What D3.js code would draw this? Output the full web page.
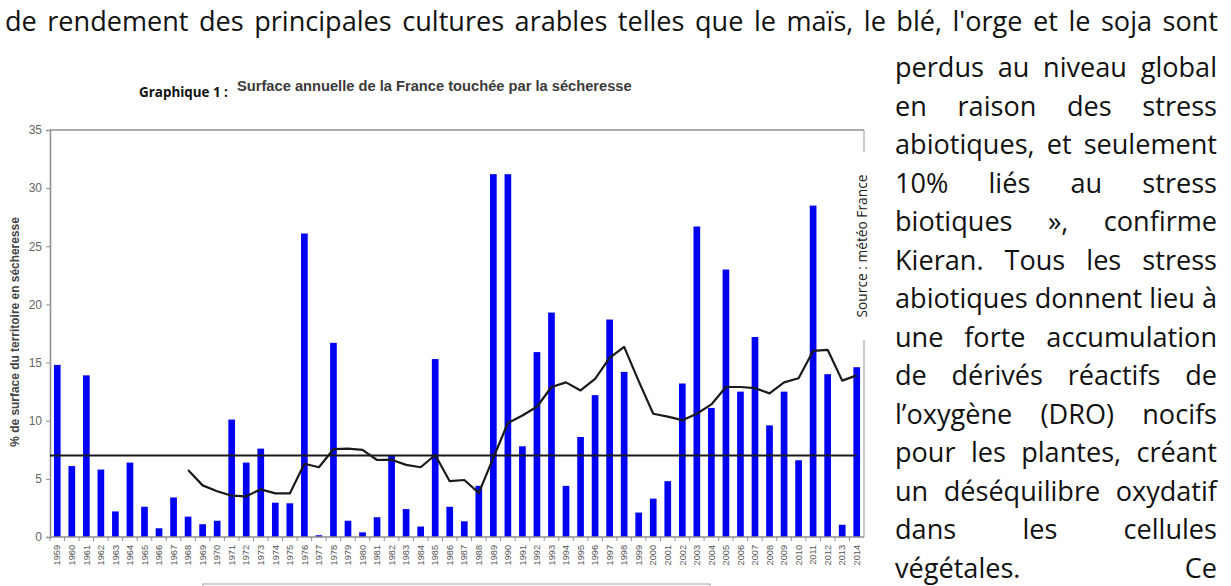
<!DOCTYPE html>
<html>
<head>
<meta charset="utf-8">
<script src="https://cdn.jsdelivr.net/npm/d3@7"></script>
<style>
  html, body { margin: 0; padding: 0; background: #fff; }
  svg { display: block; }
</style>
</head>
<body>
<script>
// ---------------- DATA ----------------
const years = ["1959","1960","1961","1962","1963","1964","1965","1966","1967","1968","1969","1970",
  "1971","1972","1973","1974","1975","1976","1977","1978","1979","1980","1981","1982","1983","1984",
  "1985","1986","1987","1988","1989","1990","1991","1992","1993","1994","1995","1996","1997","1998",
  "1999","2000","2001","2002","2003","2004","2005","2006","2007","2008","2009","2010","2011","2012",
  "2013","2014"];
const droughtPct = [14.8,6.1,13.9,5.8,2.2,6.4,2.6,0.75,3.4,1.75,1.1,1.4,10.1,6.4,7.6,2.95,2.9,
  26.1,0.15,16.7,1.4,0.4,1.7,7.0,2.4,0.9,15.3,2.6,1.35,4.4,
  31.2,31.2,7.8,15.9,19.3,4.4,8.6,12.2,18.7,14.2,2.1,3.3,4.8,
  13.2,26.7,11.1,23.0,12.5,17.2,9.6,12.5,6.6,28.5,14.0,1.05,14.6];
const avgYears = ["1968","1969","1970","1971","1972","1973","1974","1975","1976","1977","1978",
  "1979","1980","1981","1982","1983","1984","1985","1986","1987","1988","1989","1990","1991","1992",
  "1993","1994","1995","1996","1997","1998","1999","2000","2001","2002","2003","2004","2005","2006",
  "2007","2008","2009","2010","2011","2012","2013","2014"];
const avgValues = [5.76,4.44,3.93,3.55,3.5,4.1,3.75,3.75,6.3,6.0,
  7.55,7.6,7.5,6.62,6.65,6.2,6.0,7.05,4.8,4.9,
  3.8,6.8,9.8,10.45,11.2,12.9,13.3,12.6,13.6,15.4,
  16.35,13.4,10.6,10.35,10.05,10.6,11.4,12.9,12.9,12.8,
  12.35,13.3,13.65,16.0,16.1,13.45,13.9];
const referenceLevel = 7;
const yTicks = [0,5,10,15,20,25,30,35];

const chartTitle = "Surface annuelle de la France touchée par la sécheresse";
const figureLabel = "Graphique 1 :";
const yAxisLabel = "% de surface du territoire en sécheresse";
const sourceLabel = "Source : météo France";

const topLine = "de rendement des principales cultures arables telles que le maïs, le blé, l'orge et le soja sont";
const sideLines = [
  "perdus au niveau global",
  "en raison des stress",
  "abiotiques, et seulement",
  "10% liés au stress",
  "biotiques », confirme",
  "Kieran. Tous les stress",
  "abiotiques donnent lieu à",
  "une forte accumulation",
  "de dérivés réactifs de",
  "l’oxygène (DRO) nocifs",
  "pour les plantes, créant",
  "un déséquilibre oxydatif",
  "dans les cellules",
  "végétales. Ce"
];

// ---------------- LAYOUT ----------------
const W = 1231, H = 586;
const plot = { left: 50, right: 864, top: 130, bottom: 537 };
const AXIS_GRAY = "#8f8f8f";
const TEXT_GRAY = "#555";
const CHART_FONT = "'Liberation Sans', Arial, sans-serif";
const BODY_FONT = "'Open Sans', 'Noto Sans', sans-serif";

const svg = d3.select("body").append("svg").attr("width", W).attr("height", H);

function fitSize(text, family, weight, target) {
  const p = svg.append("text").attr("font-family", family).attr("font-weight", weight)
    .attr("font-size", 100).text(text);
  const w = p.node().getComputedTextLength();
  p.remove();
  return 100 * target / w;
}

const x = d3.scaleBand().domain(years).range([plot.left, plot.right])
  .paddingInner(0.54).paddingOuter(0.27);
const y = d3.scaleLinear().domain([0, 35]).range([plot.bottom, plot.top]);
const xc = d => x(d) + x.bandwidth() / 2;

// frame (top + right border)
svg.append("line").attr("x1", plot.left).attr("x2", plot.right)
  .attr("y1", plot.top).attr("y2", plot.top)
  .attr("stroke", AXIS_GRAY).attr("stroke-width", 1.6);
svg.append("line").attr("x1", plot.right).attr("x2", plot.right)
  .attr("y1", plot.top).attr("y2", plot.bottom)
  .attr("stroke", "#a8a8a8").attr("stroke-width", 1.2);

// bars
svg.append("g").selectAll("rect").data(years).join("rect")
  .attr("x", d => x(d))
  .attr("width", x.bandwidth())
  .attr("y", (d, i) => y(droughtPct[i]))
  .attr("height", (d, i) => y(0) - y(droughtPct[i]))
  .attr("fill", "#0000f2");

// y axis
const yAxis = svg.append("g").attr("transform", `translate(${plot.left},0)`)
  .call(d3.axisLeft(y).tickValues(yTicks).tickSize(4).tickPadding(4).tickFormat(d3.format("d")));
yAxis.select(".domain").attr("stroke", AXIS_GRAY).attr("stroke-width", 1.6);
yAxis.selectAll(".tick line").attr("stroke", AXIS_GRAY);
yAxis.selectAll(".tick text").attr("font-family", CHART_FONT).attr("font-size", 12)
  .attr("fill", "#666");

// x axis (ticks at category boundaries)
const xAxisG = svg.append("g").attr("transform", `translate(0,${plot.bottom})`);
xAxisG.append("line").attr("x1", plot.left).attr("x2", plot.right)
  .attr("stroke", AXIS_GRAY).attr("stroke-width", 1.6);
const step = x.step();
xAxisG.selectAll("line.bnd").data(years).join("line").attr("class", "bnd")
  .attr("x1", d => xc(d) - step / 2).attr("x2", d => xc(d) - step / 2)
  .attr("y1", 0).attr("y2", 4).attr("stroke", AXIS_GRAY);
xAxisG.selectAll("text").data(years).join("text")
  .attr("transform", d => `translate(${xc(d) + 3.2},8) rotate(-90)`)
  .attr("text-anchor", "end")
  .attr("font-family", CHART_FONT).attr("font-size", 9.2)
  .attr("fill", "#555")
  .text(d => d);

// reference line
svg.append("line")
  .attr("x1", plot.left).attr("x2", xc(years[years.length - 1]))
  .attr("y1", y(referenceLevel)).attr("y2", y(referenceLevel))
  .attr("stroke", "#1a1a1a").attr("stroke-width", 2);

// moving average
svg.append("path")
  .datum(avgYears.map((d, i) => [xc(d), y(avgValues[i])]))
  .attr("d", d3.line())
  .attr("fill", "none").attr("stroke", "#1a1a1a").attr("stroke-width", 2.2)
  .attr("stroke-linejoin", "round");

// y label
svg.append("text")
  .attr("transform", `translate(19,332) rotate(-90)`)
  .attr("text-anchor", "middle")
  .attr("font-family", CHART_FONT).attr("font-weight", "bold")
  .attr("font-size", fitSize(yAxisLabel, CHART_FONT, "bold", 230))
  .attr("fill", "#444")
  .text(yAxisLabel);

// titles
svg.append("text").attr("x", 139).attr("y", 97)
  .attr("font-family", BODY_FONT).attr("font-weight", "bold")
  .attr("font-size", fitSize(figureLabel, BODY_FONT, "bold", 89))
  .attr("fill", "#111").text(figureLabel);
svg.append("text").attr("x", 237).attr("y", 91)
  .attr("font-family", CHART_FONT).attr("font-weight", "bold")
  .attr("font-size", fitSize(chartTitle, CHART_FONT, "bold", 395))
  .attr("fill", "#3a3a3a").text(chartTitle);

// source label on white box
svg.append("rect").attr("x", 852).attr("y", 152).attr("width", 28).attr("height", 188).attr("fill", "#fff");
svg.append("text")
  .attr("transform", `translate(867,246) rotate(-90)`)
  .attr("text-anchor", "middle")
  .attr("font-family", BODY_FONT)
  .attr("font-size", fitSize(sourceLabel, BODY_FONT, "normal", 143))
  .attr("fill", "#222").text(sourceLabel);

// legend box top (cut off)
svg.append("rect").attr("x", 203).attr("y", 584).attr("width", 507).attr("height", 20)
  .attr("fill", "none").attr("stroke", "#a0a0a0").attr("stroke-width", 1);

// ---------------- BODY TEXT ----------------
const bodySize = fitSize("abiotiques donnent lieu à", BODY_FONT, "normal", 322);
function justify(line, x0, x1, baseline) {
  const words = line.split(" ");
  const t = svg.append("text").attr("font-family", BODY_FONT).attr("font-size", bodySize)
    .attr("fill", "#111").attr("y", baseline);
  const widths = words.map(w => {
    const p = svg.append("text").attr("font-family", BODY_FONT).attr("font-size", bodySize).text(w);
    const ww = p.node().getComputedTextLength(); p.remove(); return ww;
  });
  const total = d3.sum(widths);
  const gap = words.length > 1 ? (x1 - x0 - total) / (words.length - 1) : 0;
  let cx = x0;
  words.forEach((w, i) => {
    t.append("tspan").attr("x", cx).attr("y", baseline).text(w);
    cx += widths[i] + gap;
  });
}
justify(topLine, 5, 1218, 31);
sideLines.forEach((l, i) => justify(l, 895, 1217, 77 + i * 38.5));
</script>
</body>
</html>
